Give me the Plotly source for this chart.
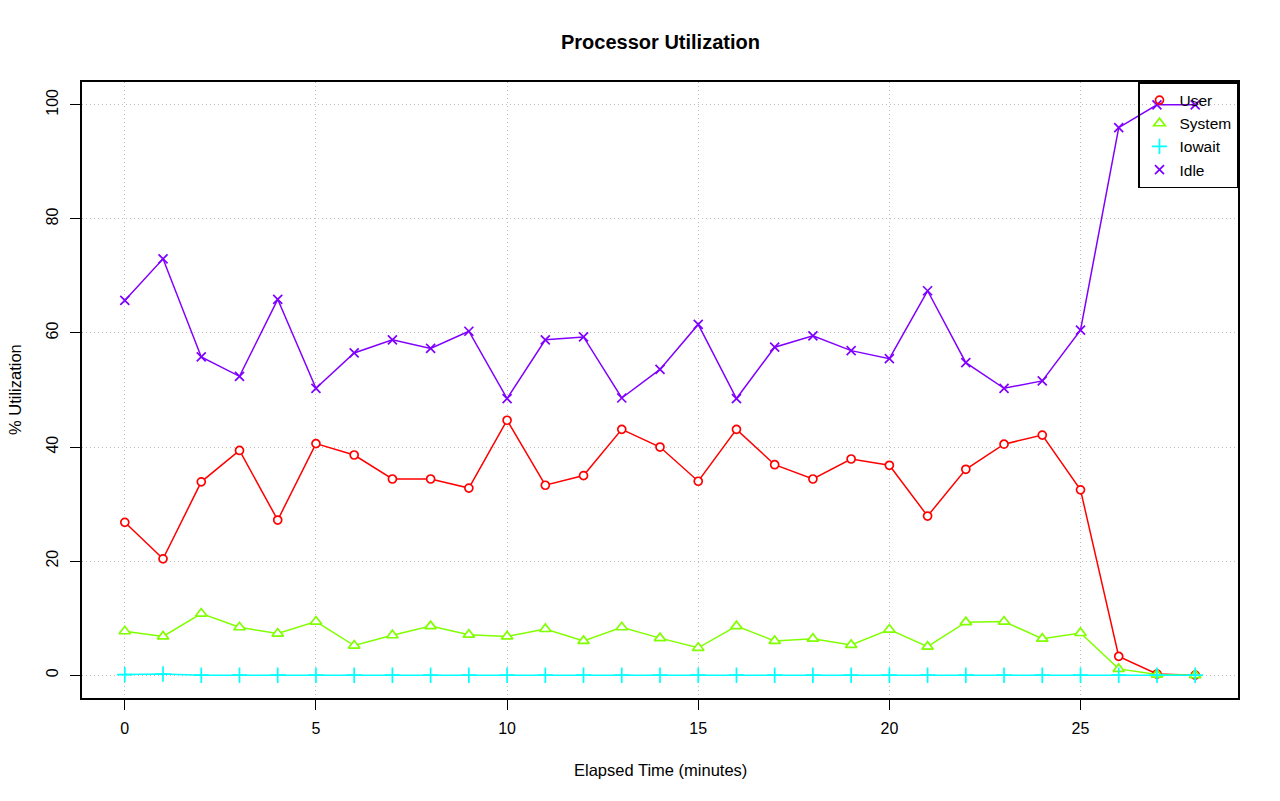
import plotly.graph_objects as go

minutes = list(range(29))
user = [26.8, 20.4, 33.9, 39.4, 27.2, 40.6, 38.6, 34.4, 34.4, 32.8, 44.7, 33.3, 35.0, 43.1, 40.0,
        34.0, 43.1, 36.9, 34.4, 37.9, 36.8, 27.9, 36.1, 40.5, 42.1, 32.5, 3.3, 0.2, 0.0]
system = [7.7, 6.8, 10.8, 8.4, 7.3, 9.4, 5.2, 7.0, 8.6, 7.1, 6.8, 8.1, 6.0, 8.4, 6.5,
          4.8, 8.6, 6.0, 6.4, 5.3, 8.0, 5.0, 9.3, 9.4, 6.4, 7.4, 1.1, 0.1, 0.0]
iowait = [0.1, 0.2, 0.0, 0.0, 0.0, 0.0, 0.0, 0.0, 0.0, 0.0, 0.0, 0.0, 0.0, 0.0, 0.0,
          0.0, 0.0, 0.0, 0.0, 0.0, 0.0, 0.0, 0.0, 0.0, 0.0, 0.0, 0.0, 0.0, 0.0]
idle = [65.7, 73.0, 55.8, 52.4, 65.9, 50.3, 56.5, 58.8, 57.3, 60.3, 48.5, 58.8, 59.3, 48.6, 53.6,
        61.5, 48.5, 57.5, 59.5, 56.9, 55.5, 67.4, 54.8, 50.3, 51.6, 60.5, 96.0, 100.0, 100.0]

series_names = ["User", "System", "Iowait", "Idle"]
series_values = [user, system, iowait, idle]
colors = ["#FF0000", "#80FF00", "#00FFFF", "#8000FF"]
symbols = ["circle", "triangle-up", "cross-thin", "x-thin"]
sizes = [8, 10, 11, 9]
x_ticks = [0, 5, 10, 15, 20, 25]
y_ticks = [0, 20, 40, 60, 80, 100]

FONT = "Liberation Sans, Arial, sans-serif"

fig = go.Figure()
for name, vals, col, sym, sz in zip(series_names, series_values, colors, symbols, sizes):
    filled = sym in ("circle", "triangle-up")
    fig.add_trace(go.Scatter(
        x=minutes, y=vals, mode="lines+markers", name=name, showlegend=False,
        line=dict(color=col, width=1.5),
        marker=dict(symbol=sym, size=sz, color="white" if filled else col,
                    line=dict(color=col, width=1.7)),
    ))
for name, col, sym, sz in zip(series_names, colors, symbols, sizes):
    fig.add_trace(go.Scatter(
        x=[None], y=[None], mode="markers", name=name,
        marker=dict(symbol=sym + ("-open" if sym in ("circle", "triangle-up") else ""),
                    size=sz, color=col, line=dict(color=col, width=1.7)),
    ))

axis_common = dict(
    showline=True, linecolor="black", linewidth=1.8, mirror=True,
    ticks="outside", ticklen=10, tickcolor="black", tickwidth=1.3,
    showgrid=True, gridcolor="#BEBEBE", griddash="1px,3px", gridwidth=1.2,
    zeroline=False, tickfont=dict(family=FONT, size=16, color="black"),
)

fig.update_xaxes(range=[-1.12, 29.12], tickvals=x_ticks, ticklabelstandoff=5, **axis_common)
fig.update_yaxes(range=[-4, 104], tickvals=y_ticks, tickangle=-90, ticklabelstandoff=6, **axis_common)

fig.update_layout(
    width=1272, height=793,
    margin=dict(l=74, r=42, t=74, b=103),
    paper_bgcolor="white", plot_bgcolor="white",
    font=dict(family=FONT, size=16, color="black"),
    showlegend=True,
    legend=dict(x=1, y=1, xanchor="right", yanchor="top",
                bgcolor="rgba(0,0,0,0)", bordercolor="black", borderwidth=1.5,
                font=dict(family=FONT, size=15.5, color="black"),
                itemwidth=30, tracegroupgap=0),
    annotations=[
        dict(text="<b>Processor Utilization</b>", xref="paper", yref="paper",
             x=0.5, y=1, yshift=40, xanchor="center", yanchor="middle",
             showarrow=False, font=dict(family=FONT, size=20)),
        dict(text="Elapsed Time (minutes)", xref="paper", yref="paper",
             x=0.5, y=0, yshift=-72, xanchor="center", yanchor="middle",
             showarrow=False, font=dict(family=FONT, size=16.5)),
        dict(text="% Utilization", xref="paper", yref="paper", textangle=-90,
             x=0, xshift=-67, y=0.5, xanchor="center", yanchor="middle",
             showarrow=False, font=dict(family=FONT, size=16.5)),
    ],
)

fig.write_html("out.html")
